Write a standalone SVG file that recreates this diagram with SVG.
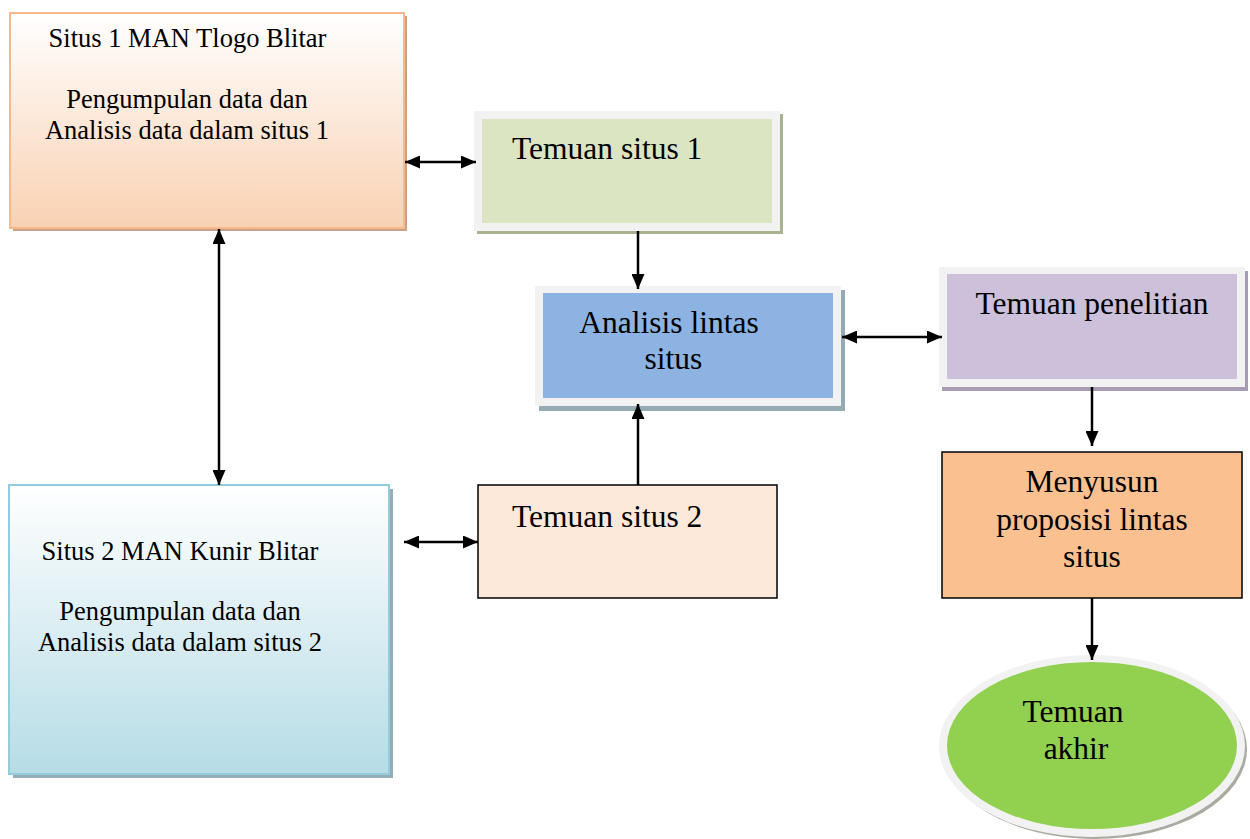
<svg xmlns="http://www.w3.org/2000/svg" width="1250" height="839" viewBox="0 0 1250 839">
<style>
text{font-family:"Liberation Serif","Times New Roman",serif;fill:#000}
.s{font-size:26.5px}
.l{font-size:31.5px}
.c{stroke:#000;stroke-width:2.5;fill:none}
.frame{fill:#f2f2f2}
</style>
<defs>
<linearGradient id="g1" x1="0" y1="0" x2="0" y2="1">
<stop offset="0" stop-color="#ffffff"/>
<stop offset="1" stop-color="#f9d1b2"/>
</linearGradient>
<linearGradient id="g2" x1="0" y1="0" x2="0" y2="1">
<stop offset="0" stop-color="#ffffff"/>
<stop offset="1" stop-color="#b6dce6"/>
</linearGradient>
<marker id="ah" viewBox="0 0 15 13" refX="15" refY="6.5" markerWidth="15" markerHeight="13" markerUnits="userSpaceOnUse" orient="auto-start-reverse">
<path d="M0,0 L15,6.5 L0,13 z" fill="#000"/>
</marker>
</defs>

<g id="situs1">
<rect x="13" y="16" width="394" height="215" fill="#c9a285"/>
<rect x="10" y="13" width="394" height="215" fill="url(#g1)" stroke="#f5b98c" stroke-width="2"/>
<text class="s" x="187.5" y="47" text-anchor="middle">Situs 1 MAN Tlogo Blitar</text>
<text class="s" x="187" y="108" text-anchor="middle">Pengumpulan data dan</text>
<text class="s" x="187" y="139" text-anchor="middle">Analisis data dalam situs 1</text>
</g>

<g id="temuan1">
<rect x="477" y="114" width="306" height="120" fill="#a9b28f"/>
<rect class="frame" x="474" y="111" width="306" height="120"/>
<rect x="482" y="119" width="290" height="104" fill="#dbe5c2"/>
<text class="l" x="512" y="159">Temuan situs 1</text>
</g>

<g id="analisis">
<rect x="539" y="290" width="306" height="121" fill="#94aab4"/>
<rect class="frame" x="535" y="286" width="306" height="120"/>
<rect x="543" y="293" width="290" height="105" fill="#8db3e2"/>
<text class="l" x="669" y="333" text-anchor="middle">Analisis lintas</text>
<text class="l" x="673.5" y="369" text-anchor="middle">situs</text>
</g>

<g id="penelitian">
<rect x="942" y="271" width="306" height="120" fill="#a79cb3"/>
<rect class="frame" x="939" y="267" width="306" height="120"/>
<rect x="947" y="274" width="290" height="105" fill="#ccc0da"/>
<text class="l" x="1092" y="314" text-anchor="middle">Temuan penelitian</text>
</g>

<g id="situs2">
<rect x="13" y="489" width="380" height="289" fill="#93adb6"/>
<rect x="9" y="485" width="380" height="289" fill="url(#g2)" stroke="#93cddd" stroke-width="2"/>
<text class="s" x="180" y="560" text-anchor="middle">Situs 2 MAN Kunir Blitar</text>
<text class="s" x="180" y="620" text-anchor="middle">Pengumpulan data dan</text>
<text class="s" x="180" y="651" text-anchor="middle">Analisis data dalam situs 2</text>
</g>

<g id="temuan2">
<rect x="478" y="485" width="299" height="113" fill="#fde9d9" stroke="#000" stroke-width="1.5"/>
<text class="l" x="512" y="527">Temuan situs 2</text>
</g>

<g id="menyusun">
<rect x="942" y="452" width="300" height="146" fill="#fac090" stroke="#000" stroke-width="1.5"/>
<text class="l" x="1092" y="492" text-anchor="middle">Menyusun</text>
<text class="l" x="1092" y="530" text-anchor="middle">proposisi lintas</text>
<text class="l" x="1092" y="567" text-anchor="middle">situs</text>
</g>

<g id="akhir">
<ellipse cx="1095" cy="749" rx="152" ry="90" fill="#a7aba0"/>
<ellipse class="frame" cx="1092" cy="746" rx="153" ry="91"/>
<ellipse cx="1092" cy="745.5" rx="145" ry="83.5" fill="#92d050"/>
<text class="l" x="1073" y="722" text-anchor="middle">Temuan</text>
<text class="l" x="1076" y="759" text-anchor="middle">akhir</text>
</g>

<g id="connectors">
<line class="c" x1="405" y1="162" x2="476" y2="162" marker-start="url(#ah)" marker-end="url(#ah)"/>
<line class="c" x1="638" y1="231" x2="638" y2="289" marker-end="url(#ah)"/>
<line class="c" x1="219" y1="229" x2="219" y2="485" marker-start="url(#ah)" marker-end="url(#ah)"/>
<line class="c" x1="404" y1="542" x2="478" y2="542" marker-start="url(#ah)" marker-end="url(#ah)"/>
<line class="c" x1="638" y1="485" x2="638" y2="404" marker-end="url(#ah)"/>
<line class="c" x1="842" y1="337" x2="942" y2="337" marker-start="url(#ah)" marker-end="url(#ah)"/>
<line class="c" x1="1092" y1="387" x2="1092" y2="446" marker-end="url(#ah)"/>
<line class="c" x1="1092" y1="598" x2="1092" y2="660" marker-end="url(#ah)"/>
</g>
</svg>
